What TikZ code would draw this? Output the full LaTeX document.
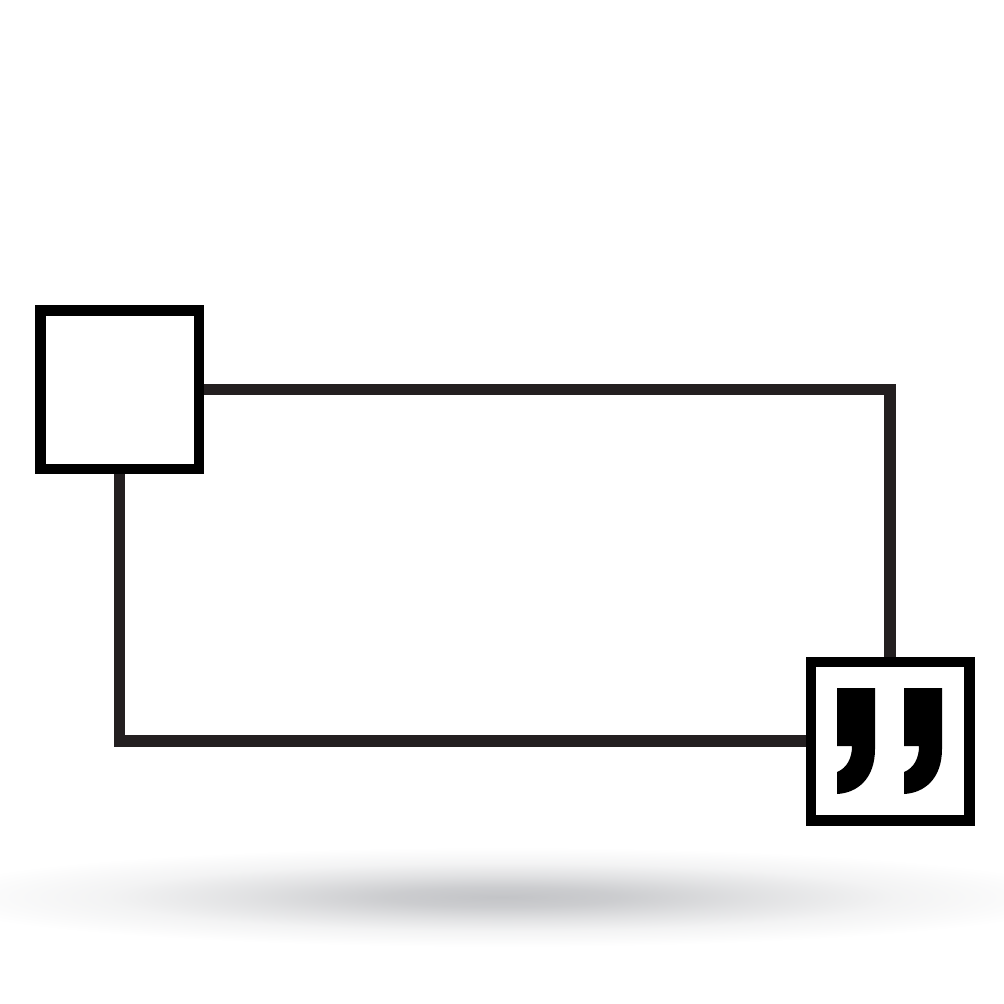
\documentclass[tikz,border=0pt]{standalone}
\usetikzlibrary{backgrounds}
\definecolor{wire}{HTML}{231F20}
\definecolor{shadowgray}{HTML}{C3C4C7}
\pgfdeclareradialshading{floorshadow}{\pgfpoint{0bp}{0bp}}{color(0bp)=(shadowgray); color(5bp)=(shadowgray!85!white); color(11bp)=(shadowgray!50!white); color(17bp)=(shadowgray!20!white); color(25bp)=(white); color(50bp)=(white)}

\begin{document}
\begin{tikzpicture}[x=1pt, y=-1pt, every node/.style={rectangle, draw=black, fill=white, line width=10.5pt, minimum size=158.5pt, inner sep=0pt}]
\useasboundingbox (0,0) rectangle (1004,1004);
\node (open) at (119.5,389.5) {};
\node (close) at (890,741) {};

  % closing quote marks
  \begin{scope}[shift={(close.center)}]
    \foreach \dx in {0,67}
      \fill[black, xshift=\dx] (-53,-53) -- (-15,-53) -- (-15,8)
        .. controls (-15,38) and (-33,52) .. (-53,53) -- (-53,31)
        .. controls (-43,27) and (-38,17) .. (-38,5) -- (-53,5) -- cycle;
  \end{scope}

  \begin{scope}[on background layer]
    \shade[shading=floorshadow] (502,897) ellipse [x radius=580pt, y radius=50pt];
    \draw[wire, line width=11.5pt] (open.center) -| (close.center);
    \draw[wire, line width=11.5pt] (open.center) |- (close.center);
  \end{scope}
\end{tikzpicture}
\end{document}
